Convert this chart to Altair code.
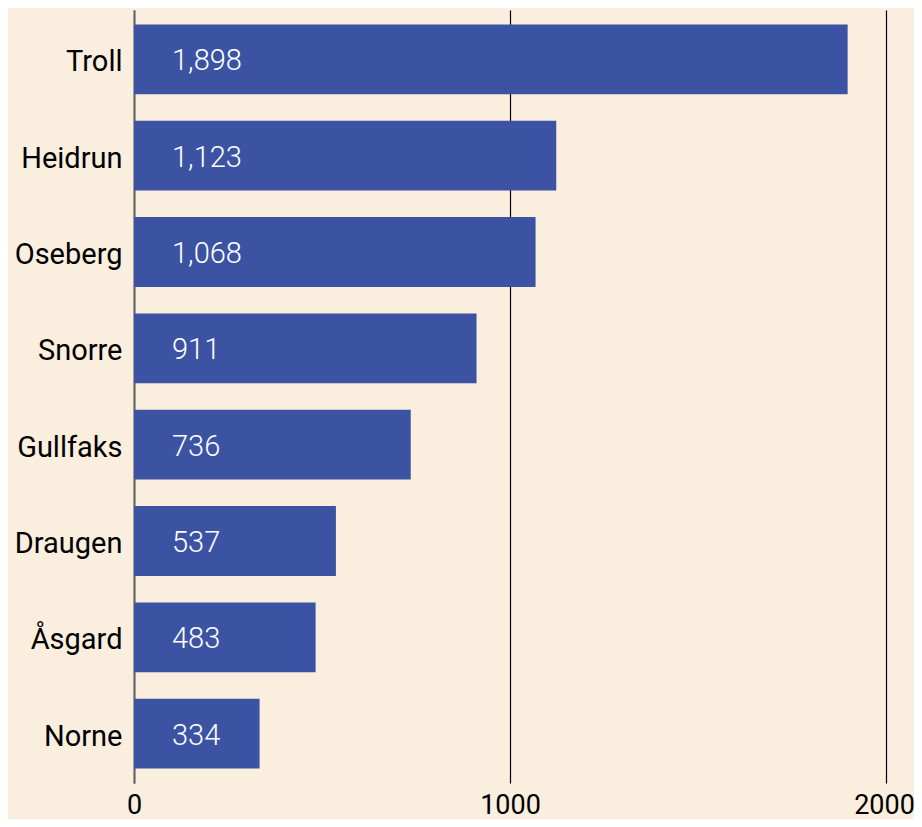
import altair as alt
import pandas as pd

fields = ["Troll", "Heidrun", "Oseberg", "Snorre", "Gullfaks", "Draugen", "Åsgard", "Norne"]
values = [1898, 1123, 1068, 911, 736, 537, 483, 334]
x_ticks = [0, 1000, 2000]

df = pd.DataFrame({"field": fields, "value": values})
df["label"] = df["value"].map(lambda v: f"{v:,}")

BG = "#FAEEDF"
BAR = "#3C53A4"
FONT = "Roboto"

y = alt.Y("field:N", sort=fields, title=None,
          scale=alt.Scale(paddingInner=0.275, paddingOuter=0.15),
          axis=alt.Axis(labelFontSize=29, labelColor="black", labelFont=FONT,
                        labelPadding=12, ticks=False, domain=True, labelOffset=3,
                        domainColor="#666666", domainWidth=2))
x = alt.X("value:Q", title=None,
          scale=alt.Scale(domain=[0, 2000], nice=False),
          axis=alt.Axis(values=x_ticks, labelFontSize=27, labelColor="black",
                        labelFont=FONT, grid=True, gridColor="black", gridWidth=1.2,
                        ticks=False, domain=False, labelPadding=30,
                        labelBaseline="alphabetic", format="d",
                        labelOffset={"condition": {"test": "datum.value >= 2000", "value": -2},
                                     "value": 0},
                        labelFlush=False))

bars = alt.Chart(df).mark_bar(color=BAR).encode(x=x, y=y)
text = alt.Chart(df).mark_text(align="left", baseline="middle", dx=38, dy=2, color="white",
                               fontSize=29, font=FONT, fontWeight=300).encode(
    x=alt.X("zero:Q"), y=alt.Y("field:N", sort=fields), text="label:N"
).transform_calculate(zero="0")

chart = (bars + text).properties(
    width=752, height=773, background=BG,
    autosize=alt.AutoSizeParams(type="none"),
    padding={"left": 126, "top": 2, "right": 28, "bottom": 36},
).configure_view(stroke=None)

chart.save("out.html", embed_options={"renderer": "svg", "actions": False})
